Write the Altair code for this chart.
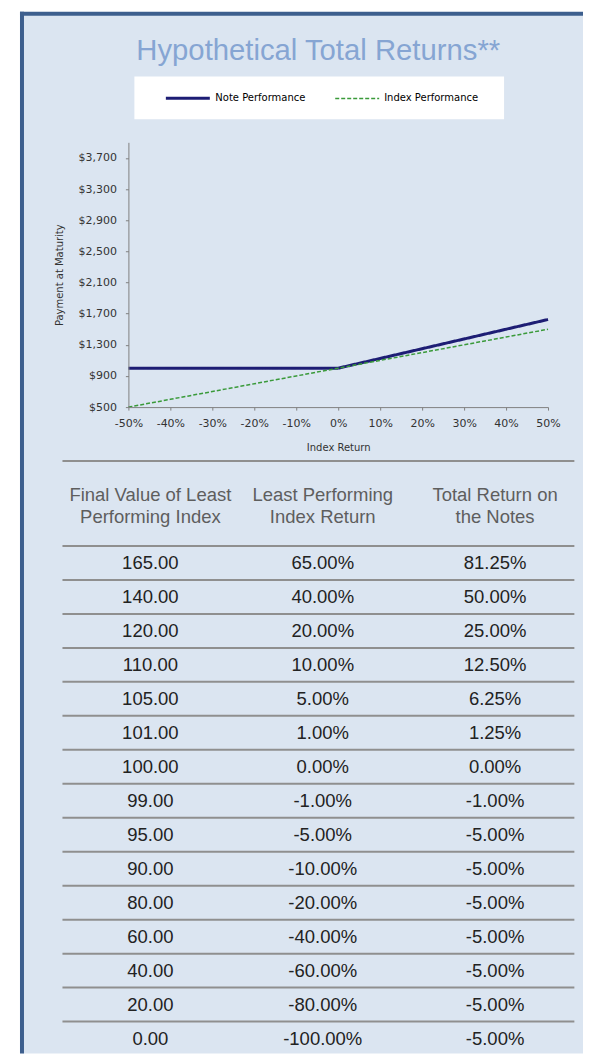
import altair as alt
import pandas as pd

# ---------------- chart data ----------------
index_return = [-0.5, -0.4, -0.3, -0.2, -0.1, 0.0, 0.1, 0.2, 0.3, 0.4, 0.5]
note_payment = [1000, 1000, 1000, 1000, 1000, 1000, 1125, 1250, 1375, 1500, 1625]
index_payment = [500, 600, 700, 800, 900, 1000, 1100, 1200, 1300, 1400, 1500]
series_names = ["Note Performance", "Index Performance"]
y_tick_values = [500, 900, 1300, 1700, 2100, 2500, 2900, 3300, 3700]
x_tick_values = [-0.5, -0.4, -0.3, -0.2, -0.1, 0.0, 0.1, 0.2, 0.3, 0.4, 0.5]

# ---------------- table data ----------------
table_headers = [
    "Final Value of Least\nPerforming Index",
    "Least Performing\nIndex Return",
    "Total Return on\nthe Notes",
]
final_values = ["165.00", "140.00", "120.00", "110.00", "105.00", "101.00", "100.00",
                "99.00", "95.00", "90.00", "80.00", "60.00", "40.00", "20.00", "0.00"]
lpi_returns = ["65.00%", "40.00%", "20.00%", "10.00%", "5.00%", "1.00%", "0.00%",
               "-1.00%", "-5.00%", "-10.00%", "-20.00%", "-40.00%", "-60.00%",
               "-80.00%", "-100.00%"]
note_returns = ["81.25%", "50.00%", "25.00%", "12.50%", "6.25%", "1.25%", "0.00%",
                "-1.00%", "-5.00%", "-5.00%", "-5.00%", "-5.00%", "-5.00%",
                "-5.00%", "-5.00%"]

# ---------------- styles ----------------
PANEL = "#dbe5f1"
BORDER = "#3d5f8e"
NAVY = "#1d1d74"
GREEN = "#3a9a3a"
TITLE_COLOR = "#86a5d3"
AXIS_FONT = "DejaVu Sans"
TABLE_FONT = "Liberation Sans"

W, H = 420, 265

# ---------------- line chart ----------------
rows = []
for x, n, i in zip(index_return, note_payment, index_payment):
    rows.append({"ret": x, "pay": n, "series": series_names[0]})
    rows.append({"ret": x, "pay": i, "series": series_names[1]})
line_df = pd.DataFrame(rows)

legend_kw = dict(
    title=".", titleOrient="right", titleColor="white", titleFontSize=10, titlePadding=8,
    orient="none", legendX=6, legendY=-66, direction="horizontal",
    fillColor="white", padding=15, symbolType="M2,0H10.8", symbolSize=100,
    labelOffset=53, labelFont=AXIS_FONT, labelFontSize=10, labelColor="black",
    columnPadding=13,
)

axis_common = dict(zindex=1, grid=False, domainColor="#7f7f7f", tickColor="#7f7f7f",
                   labelFont=AXIS_FONT, labelFontSize=11, labelColor="#333333",
                   titleFont=AXIS_FONT, titleFontSize=10, titleFontWeight="normal",
                   titleColor="#333333", tickSize=3, labelOverlap=False, labelFlush=False)

MINUS = "\u2212"

lines = alt.Chart(line_df).mark_line().encode(
    x=alt.X("ret:Q", scale=alt.Scale(domain=[-0.5, 0.5], nice=False, zero=False),
            axis=alt.Axis(values=x_tick_values, format=".0%", title="Index Return",
                          labelExpr=f"replace(datum.label, '{MINUS}', '-')",
                          labelPadding=7, titlePadding=14.5, **axis_common)),
    y=alt.Y("pay:Q", scale=alt.Scale(domain=[500, 3900], nice=False, zero=False),
            axis=alt.Axis(values=y_tick_values, format="$,.0f", title="Payment at Maturity",
                          labelPadding=9, titlePadding=13.5, **axis_common)),
    color=alt.Color("series:N", scale=alt.Scale(domain=series_names, range=[NAVY, GREEN]),
                    legend=alt.Legend(**legend_kw)),
    strokeDash=alt.StrokeDash("series:N",
                              scale=alt.Scale(domain=series_names, range=[[1, 0], [4, 2]]),
                              legend=alt.Legend(**legend_kw)),
    strokeWidth=alt.StrokeWidth("series:N",
                                scale=alt.Scale(domain=series_names, range=[3, 1.5]),
                                legend=alt.Legend(**legend_kw)),
)

# background panel and its border (decoration, in pixels from the plot origin)
one = pd.DataFrame({"a": [0]})
panel = alt.Chart(one).mark_rect(color=PANEL).encode(
    x=alt.value(-106), x2=alt.value(455), y=alt.value(-128), y2=alt.value(912))
border_left = alt.Chart(one).mark_rect(color=BORDER).encode(
    x=alt.value(-108.5), x2=alt.value(-104.5), y=alt.value(-130.7), y2=alt.value(912))
border_top = alt.Chart(one).mark_rect(color=BORDER).encode(
    x=alt.value(-108.5), x2=alt.value(455), y=alt.value(-130.7), y2=alt.value(-126.7))

line_chart = alt.layer(panel, border_left, border_top, lines).properties(
    width=W, height=H,
    title=alt.TitleParams(text="Hypothetical Total Returns**", font=TABLE_FONT, fontSize=29.3,
                          fontWeight="normal", color=TITLE_COLOR, anchor="middle", dx=-20,
                          baseline="alphabetic", offset=-78),
)

# ---------------- table ----------------
cols = [final_values, lpi_returns, note_returns]
cell_rows = []
for c, values in enumerate(cols):
    for r, v in enumerate(values):
        cell_rows.append({"col": c, "row": r, "txt": v})
cell_df = pd.DataFrame(cell_rows)
head_df = pd.DataFrame({"col": [0, 1, 2], "row": [-2.0] * 3, "txt": table_headers})
n_rows = len(final_values)
rule_df = pd.DataFrame({
    "ry": [-3, -0.5] + [k + 0.5 for k in range(n_rows - 1)],
    "x0": [-0.51] * (n_rows + 1),
    "x1": [2.46] * (n_rows + 1),
})

tx = alt.Scale(domain=[-0.1275, 2.3072], nice=False, zero=False)
ty = alt.Scale(domain=[-3, 14.25], nice=False, zero=False, reverse=True)
TW, TH = 420, 586.5

table_rules = alt.Chart(rule_df).mark_rule(color="#8f8f8f", strokeWidth=2).encode(
    x=alt.X("x0:Q", scale=tx, axis=None), x2="x1:Q",
    y=alt.Y("ry:Q", scale=ty, axis=None))
table_head = alt.Chart(head_df).mark_text(
    font=TABLE_FONT, fontSize=18.5, color="#5e5e5e", lineBreak="\n", lineHeight=22,
    baseline="middle", align="center").encode(
    x=alt.X("col:Q", scale=tx, axis=None), y=alt.Y("row:Q", scale=ty, axis=None), text="txt:N")
table_cells = alt.Chart(cell_df).mark_text(
    font=TABLE_FONT, fontSize=18.5, color="#222222", baseline="middle", align="center").encode(
    x=alt.X("col:Q", scale=tx, axis=None), y=alt.Y("row:Q", scale=ty, axis=None), text="txt:N")

table_chart = alt.layer(table_rules, table_head, table_cells).properties(width=TW, height=TH)

chart = alt.vconcat(line_chart, table_chart, spacing=54, bounds="flush").properties(
    padding={"left": 11.5, "top": 3, "right": 0, "bottom": 0},
    background="white",
).configure_view(strokeWidth=0)

chart.save("out.html", embed_options={"renderer": "svg", "actions": False})
